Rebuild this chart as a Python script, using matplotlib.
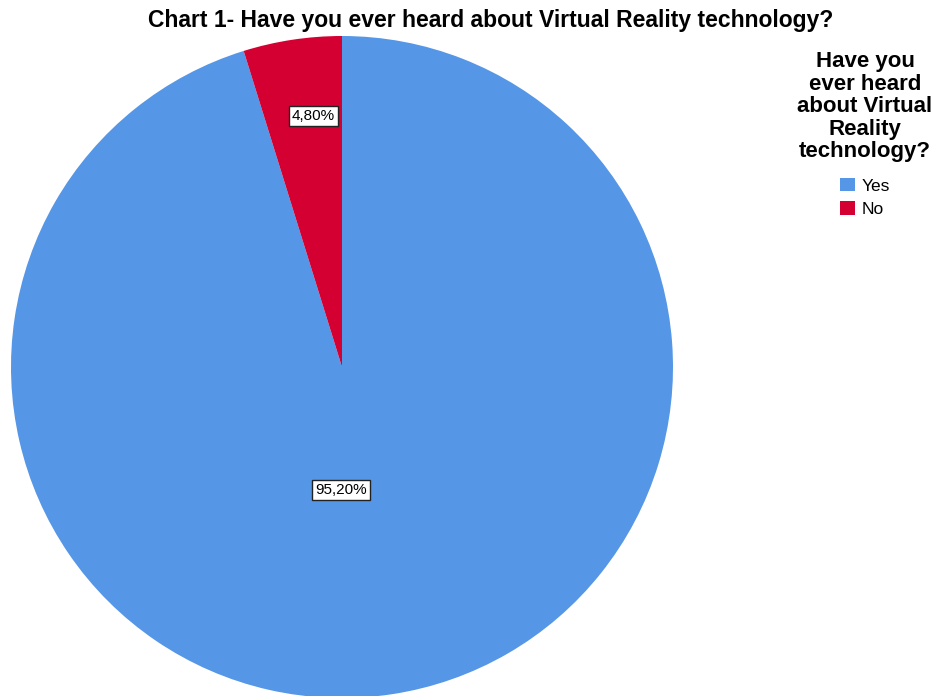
import numpy as np
import matplotlib
matplotlib.use('Agg')
from matplotlib import pyplot as plt

plt.rcParams['font.family'] = ['Liberation Sans', 'DejaVu Sans']

labels = ['Yes', 'No']
percents = [95.20, 4.80]
colors = ['#5596e6', '#d50032']
title = 'Chart 1- Have you ever heard about Virtual Reality technology?'
legend_title = 'Have you\never heard\nabout Virtual\nReality\ntechnology?'

fig = plt.figure(figsize=(9.38, 6.96), dpi=100)
ax = fig.add_axes([11 / 938, -2 / 696, 662 / 938, 662 / 696])

wedges, _ = ax.pie(percents, colors=colors, startangle=90, counterclock=False,
                   radius=1, wedgeprops={'linewidth': 0})
ax.set_xlim(-1, 1)
ax.set_ylim(-1, 1)
ax.set_aspect('equal')

# where the labels sit: share of radius and share along the wedge
dists = [0.372, 0.763]
fracs = [0.473, 0.38]
for w, p, d, f in zip(wedges, percents, dists, fracs):
    ang = np.deg2rad(w.theta1 + f * (w.theta2 - w.theta1))
    ax.text(d * np.cos(ang), d * np.sin(ang), f'{p:.2f}%'.replace('.', ','),
            ha='center', va='center', fontsize=11,
            bbox=dict(boxstyle='square,pad=0.2', fc='white', ec='#222222', lw=1))

fig.text(491 / 938, 1 - 20 / 696, title, ha='center', va='center',
         fontsize=16.5, fontweight='bold')

leg = fig.legend(wedges, labels, loc='upper center', bbox_to_anchor=(865 / 938, 1 - 44 / 696),
                 frameon=False, title=legend_title, fontsize=12.5,
                 title_fontproperties={'size': 16, 'weight': 'bold'},
                 handlelength=0.85, handleheight=0.85, handletextpad=0.35,
                 labelspacing=0.45, alignment='center', borderaxespad=0)
leg.get_title().set_multialignment('center')
leg.get_title().set_linespacing(1.1)
leg._legend_box.sep = 11

fig.savefig('out.png', dpi=100)
